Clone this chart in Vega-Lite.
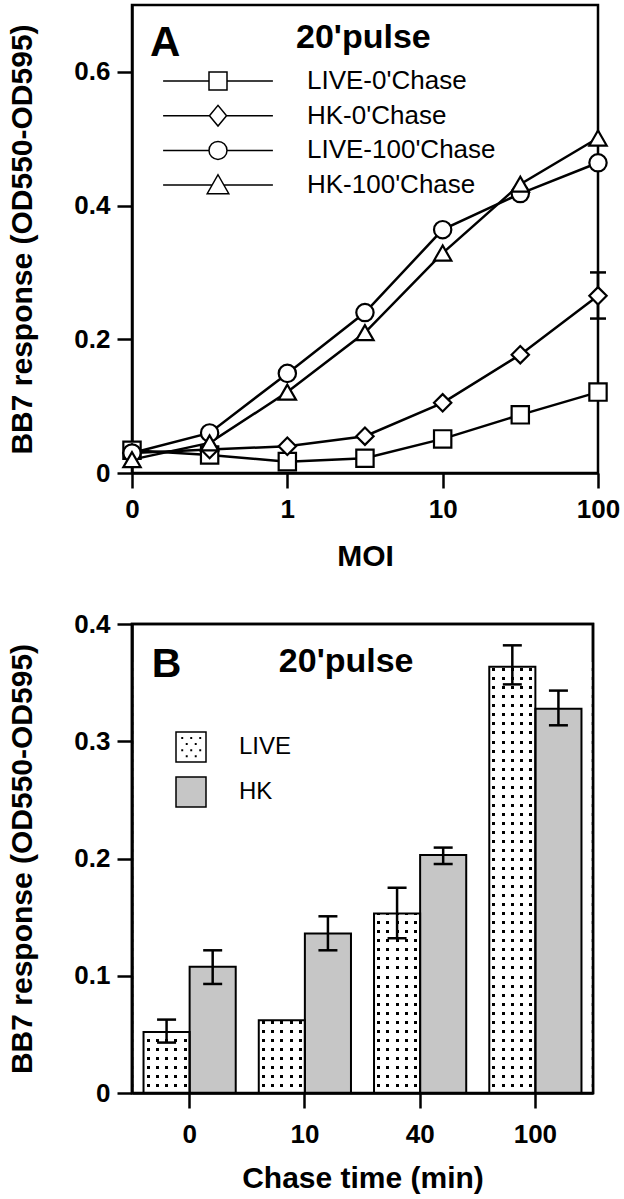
{
"$schema": "https://vega.github.io/schema/vega-lite/v6.json",
"background": "white",
"padding": {"left": 6, "top": 3, "right": 0, "bottom": 0},
"spacing": 36,
"resolve": {"scale": {"shape": "independent", "fill": "independent"}, "legend": {"shape": "independent", "fill": "independent"}},
"config": {
  "font": "Liberation Sans",
  "view": {"stroke": "black", "strokeWidth": 2.5},
  "axis": {"domainColor": "black", "domainWidth": 2.5, "tickColor": "black", "tickWidth": 2.5, "tickSize": 15, "labelFont": "Liberation Sans", "labelFontWeight": "bold", "labelFontSize": 26, "labelColor": "black", "titleFont": "Liberation Sans", "titleFontWeight": "bold", "titleFontSize": 30, "titleColor": "black", "grid": false},
  "axisY": {"labelPadding": 7, "titlePadding": 36},
  "axisX": {"labelPadding": 8, "titlePadding": 19},
  "legend": {"labelFont": "Liberation Sans", "labelColor": "black"}
},
"vconcat": [
{
  "width": 466, "height": 468,
  "data": {"values": [
    {"series": "LIVE-0'Chase", "moi": 0.1, "val": 0.034},
    {"series": "LIVE-0'Chase", "moi": 0.316, "val": 0.027},
    {"series": "LIVE-0'Chase", "moi": 1, "val": 0.017},
    {"series": "LIVE-0'Chase", "moi": 3.16, "val": 0.022},
    {"series": "LIVE-0'Chase", "moi": 10, "val": 0.051},
    {"series": "LIVE-0'Chase", "moi": 31.6, "val": 0.087},
    {"series": "LIVE-0'Chase", "moi": 100, "val": 0.121},
    {"series": "HK-0'Chase", "moi": 0.1, "val": 0.030},
    {"series": "HK-0'Chase", "moi": 0.316, "val": 0.035},
    {"series": "HK-0'Chase", "moi": 1, "val": 0.040},
    {"series": "HK-0'Chase", "moi": 3.16, "val": 0.055},
    {"series": "HK-0'Chase", "moi": 10, "val": 0.105},
    {"series": "HK-0'Chase", "moi": 31.6, "val": 0.177},
    {"series": "HK-0'Chase", "moi": 100, "val": 0.265, "lo": 0.231, "hi": 0.300},
    {"series": "LIVE-100'Chase", "moi": 0.1, "val": 0.030},
    {"series": "LIVE-100'Chase", "moi": 0.316, "val": 0.060},
    {"series": "LIVE-100'Chase", "moi": 1, "val": 0.149},
    {"series": "LIVE-100'Chase", "moi": 3.16, "val": 0.240},
    {"series": "LIVE-100'Chase", "moi": 10, "val": 0.364},
    {"series": "LIVE-100'Chase", "moi": 31.6, "val": 0.418},
    {"series": "LIVE-100'Chase", "moi": 100, "val": 0.464},
    {"series": "HK-100'Chase", "moi": 0.1, "val": 0.020},
    {"series": "HK-100'Chase", "moi": 0.316, "val": 0.045},
    {"series": "HK-100'Chase", "moi": 1, "val": 0.121},
    {"series": "HK-100'Chase", "moi": 3.16, "val": 0.210},
    {"series": "HK-100'Chase", "moi": 10, "val": 0.329},
    {"series": "HK-100'Chase", "moi": 31.6, "val": 0.432},
    {"series": "HK-100'Chase", "moi": 100, "val": 0.501}
  ]},
  "resolve": {"scale": {"shape": "independent"}},
  "layer": [
    {"mark": {"type": "line", "color": "black", "strokeWidth": 2.5},
     "encoding": {
       "x": {"field": "moi", "type": "quantitative", "scale": {"type": "log", "domain": [0.1, 100]}, "axis": {"values": [0.1, 1, 10, 100], "labelFlush": false, "labelExpr": "datum.value < 0.5 ? '0' : format(datum.value, '~g')", "title": "MOI"}},
       "y": {"field": "val", "type": "quantitative", "scale": {"domain": [0, 0.7], "nice": false}, "axis": {"values": [0, 0.2, 0.4, 0.6], "format": "~g", "title": "BB7 response (OD550-OD595)"}},
       "detail": {"field": "series", "type": "nominal"}}},
    {"transform": [{"filter": "isValid(datum.lo)"}],
     "mark": {"type": "rule", "color": "black", "strokeWidth": 2.5},
     "encoding": {"x": {"field": "moi", "type": "quantitative"}, "y": {"field": "lo", "type": "quantitative"}, "y2": {"field": "hi"}}},
    {"transform": [{"filter": "isValid(datum.hi)"}],
     "mark": {"type": "tick", "orient": "horizontal", "color": "black", "size": 16, "thickness": 2.5, "opacity": 1},
     "encoding": {"x": {"field": "moi", "type": "quantitative"}, "y": {"field": "hi", "type": "quantitative"}}},
    {"transform": [{"filter": "isValid(datum.lo)"}],
     "mark": {"type": "tick", "orient": "horizontal", "color": "black", "size": 16, "thickness": 2.5, "opacity": 1},
     "encoding": {"x": {"field": "moi", "type": "quantitative"}, "y": {"field": "lo", "type": "quantitative"}}},
    {"mark": {"type": "point", "filled": true, "fill": "white", "stroke": "black", "strokeWidth": 2.2, "size": 300, "opacity": 1},
     "encoding": {
       "x": {"field": "moi", "type": "quantitative"},
       "y": {"field": "val", "type": "quantitative"},
       "shape": {"field": "series", "type": "nominal", "scale": {"domain": ["LIVE-0'Chase", "HK-0'Chase", "LIVE-100'Chase", "HK-100'Chase"], "range": ["square", "diamond", "circle", "triangle-up"]}, "legend": null}}},
    {"transform": [{"filter": "false"}],
     "mark": {"type": "point", "filled": true, "fill": "white", "stroke": "black", "strokeWidth": 2.5, "opacity": 1},
     "encoding": {
       "shape": {"field": "series", "type": "nominal",
         "scale": {"domain": ["LIVE-0'Chase", "HK-0'Chase", "LIVE-100'Chase", "HK-100'Chase"],
                   "range": ["M-6.1,0H-1M1,0H6.1M-1,-1H1V1H-1Z", "M-6.1,0H-0.95M0.95,0H6.1M-0.95,0L0,-1.15L0.95,0L0,1.15Z", "M-6.1,0H-1M1,0H6.1M-1,0A1,1,0,1,1,1,0A1,1,0,1,1,-1,0Z", "M-6.1,0H-0.66M0.66,0H6.1M0,-1.15L1.2,0.95H-1.2Z"]},
         "legend": {"orient": "none", "legendX": 73, "legendY": 63, "title": null, "padding": 0, "symbolSize": 324, "labelFontSize": 26, "labelOffset": 76, "rowPadding": 7.7, "labelLimit": 400,
           "encode": {"symbols": {"update": {"stroke": {"value": "black"}, "strokeWidth": {"value": 2.6}, "fill": {"value": "white"}, "opacity": {"value": 1}}}}}}}},
    {"data": {"values": [{}]},
     "mark": {"type": "text", "text": "A", "font": "Liberation Sans", "fontSize": 42, "fontWeight": "bold", "align": "left", "baseline": "middle", "color": "black"},
     "encoding": {"x": {"datum": 0.1306, "type": "quantitative"}, "y": {"datum": 0.643, "type": "quantitative"}}},
    {"data": {"values": [{}]},
     "mark": {"type": "text", "text": "20'pulse", "font": "Liberation Sans", "fontSize": 34, "fontWeight": "bold", "align": "left", "baseline": "middle", "color": "black"},
     "encoding": {"x": {"datum": 1.137, "type": "quantitative"}, "y": {"datum": 0.651, "type": "quantitative"}}}
  ]
},
{
  "width": 461, "height": 469,
  "data": {"values": [
    {"chase": "0", "type": "LIVE", "val": 0.052, "lo": 0.043, "hi": 0.0626},
    {"chase": "0", "type": "HK", "val": 0.1076, "lo": 0.093, "hi": 0.1217},
    {"chase": "10", "type": "LIVE", "val": 0.062},
    {"chase": "10", "type": "HK", "val": 0.136, "lo": 0.1217, "hi": 0.1507},
    {"chase": "40", "type": "LIVE", "val": 0.153, "lo": 0.132, "hi": 0.175},
    {"chase": "40", "type": "HK", "val": 0.203, "lo": 0.1953, "hi": 0.2093},
    {"chase": "100", "type": "LIVE", "val": 0.3635, "lo": 0.3485, "hi": 0.3818},
    {"chase": "100", "type": "HK", "val": 0.3277, "lo": 0.3136, "hi": 0.3432}
  ]},
  "layer": [
    {"transform": [{"filter": "datum.type == 'LIVE'"}],
     "mark": {"type": "bar", "strokeWidth": 0, "fill": {"gradient": "linear", "x1": 0, "y1": 0, "x2": 1, "y2": 0, "stops": [
        {"offset": 0, "color": "#fff"}, {"offset": 0.0674, "color": "#fff"}, {"offset": 0.0674, "color": "#000"}, {"offset": 0.1326, "color": "#000"}, {"offset": 0.1326, "color": "#fff"},
        {"offset": 0.2674, "color": "#fff"}, {"offset": 0.2674, "color": "#000"}, {"offset": 0.3326, "color": "#000"}, {"offset": 0.3326, "color": "#fff"},
        {"offset": 0.4674, "color": "#fff"}, {"offset": 0.4674, "color": "#000"}, {"offset": 0.5326, "color": "#000"}, {"offset": 0.5326, "color": "#fff"},
        {"offset": 0.6674, "color": "#fff"}, {"offset": 0.6674, "color": "#000"}, {"offset": 0.7326, "color": "#000"}, {"offset": 0.7326, "color": "#fff"},
        {"offset": 0.8674, "color": "#fff"}, {"offset": 0.8674, "color": "#000"}, {"offset": 0.9326, "color": "#000"}, {"offset": 0.9326, "color": "#fff"},
        {"offset": 1, "color": "#fff"}]}},
     "encoding": {
       "x": {"field": "chase", "type": "nominal", "scale": {"domain": ["0", "10", "40", "100"], "paddingInner": 0.2, "paddingOuter": 0.1}, "axis": {"title": "Chase time (min)", "labelAngle": 0, "zindex": 1, "labelPadding": 13, "titlePadding": 16}},
       "xOffset": {"field": "type", "type": "nominal", "scale": {"domain": ["LIVE", "HK"], "paddingInner": 0, "paddingOuter": 0}},
       "y": {"field": "val", "type": "quantitative", "scale": {"domain": [0, 0.4], "nice": false}, "axis": {"values": [0, 0.1, 0.2, 0.3, 0.4], "format": "~g", "title": "BB7 response (OD550-OD595)", "zindex": 1}}}},
    {"data": {"values": [{}]},
     "mark": {"type": "rect", "fill": {"gradient": "linear", "x1": 0, "y1": 0, "x2": 0, "y2": 1, "stops": [
{"offset":0,"color":"transparent"},{"offset":0.0069,"color":"transparent"},{"offset":0.0069,"color":"#fff"},
{"offset":0.0208,"color":"#fff"},{"offset":0.0208,"color":"transparent"},{"offset":0.0277,"color":"transparent"},{"offset":0.0277,"color":"#fff"},
{"offset":0.0417,"color":"#fff"},{"offset":0.0417,"color":"transparent"},{"offset":0.0486,"color":"transparent"},{"offset":0.0486,"color":"#fff"},
{"offset":0.0625,"color":"#fff"},{"offset":0.0625,"color":"transparent"},{"offset":0.0694,"color":"transparent"},{"offset":0.0694,"color":"#fff"},
{"offset":0.0833,"color":"#fff"},{"offset":0.0833,"color":"transparent"},{"offset":0.0902,"color":"transparent"},{"offset":0.0902,"color":"#fff"},
{"offset":0.1042,"color":"#fff"},{"offset":0.1042,"color":"transparent"},{"offset":0.1111,"color":"transparent"},{"offset":0.1111,"color":"#fff"},
{"offset":0.125,"color":"#fff"},{"offset":0.125,"color":"transparent"},{"offset":0.1319,"color":"transparent"},{"offset":0.1319,"color":"#fff"},
{"offset":0.1458,"color":"#fff"},{"offset":0.1458,"color":"transparent"},{"offset":0.1527,"color":"transparent"},{"offset":0.1527,"color":"#fff"},
{"offset":0.1667,"color":"#fff"},{"offset":0.1667,"color":"transparent"},{"offset":0.1736,"color":"transparent"},{"offset":0.1736,"color":"#fff"},
{"offset":0.1875,"color":"#fff"},{"offset":0.1875,"color":"transparent"},{"offset":0.1944,"color":"transparent"},{"offset":0.1944,"color":"#fff"},
{"offset":0.2083,"color":"#fff"},{"offset":0.2083,"color":"transparent"},{"offset":0.2152,"color":"transparent"},{"offset":0.2152,"color":"#fff"},
{"offset":0.2292,"color":"#fff"},{"offset":0.2292,"color":"transparent"},{"offset":0.2361,"color":"transparent"},{"offset":0.2361,"color":"#fff"},
{"offset":0.25,"color":"#fff"},{"offset":0.25,"color":"transparent"},{"offset":0.2569,"color":"transparent"},{"offset":0.2569,"color":"#fff"},
{"offset":0.2708,"color":"#fff"},{"offset":0.2708,"color":"transparent"},{"offset":0.2777,"color":"transparent"},{"offset":0.2777,"color":"#fff"},
{"offset":0.2917,"color":"#fff"},{"offset":0.2917,"color":"transparent"},{"offset":0.2986,"color":"transparent"},{"offset":0.2986,"color":"#fff"},
{"offset":0.3125,"color":"#fff"},{"offset":0.3125,"color":"transparent"},{"offset":0.3194,"color":"transparent"},{"offset":0.3194,"color":"#fff"},
{"offset":0.3333,"color":"#fff"},{"offset":0.3333,"color":"transparent"},{"offset":0.3402,"color":"transparent"},{"offset":0.3402,"color":"#fff"},
{"offset":0.3542,"color":"#fff"},{"offset":0.3542,"color":"transparent"},{"offset":0.3611,"color":"transparent"},{"offset":0.3611,"color":"#fff"},
{"offset":0.375,"color":"#fff"},{"offset":0.375,"color":"transparent"},{"offset":0.3819,"color":"transparent"},{"offset":0.3819,"color":"#fff"},
{"offset":0.3958,"color":"#fff"},{"offset":0.3958,"color":"transparent"},{"offset":0.4027,"color":"transparent"},{"offset":0.4027,"color":"#fff"},
{"offset":0.4167,"color":"#fff"},{"offset":0.4167,"color":"transparent"},{"offset":0.4236,"color":"transparent"},{"offset":0.4236,"color":"#fff"},
{"offset":0.4375,"color":"#fff"},{"offset":0.4375,"color":"transparent"},{"offset":0.4444,"color":"transparent"},{"offset":0.4444,"color":"#fff"},
{"offset":0.4583,"color":"#fff"},{"offset":0.4583,"color":"transparent"},{"offset":0.4652,"color":"transparent"},{"offset":0.4652,"color":"#fff"},
{"offset":0.4792,"color":"#fff"},{"offset":0.4792,"color":"transparent"},{"offset":0.4861,"color":"transparent"},{"offset":0.4861,"color":"#fff"},
{"offset":0.5,"color":"#fff"},{"offset":0.5,"color":"transparent"},{"offset":0.5069,"color":"transparent"},{"offset":0.5069,"color":"#fff"},
{"offset":0.5208,"color":"#fff"},{"offset":0.5208,"color":"transparent"},{"offset":0.5277,"color":"transparent"},{"offset":0.5277,"color":"#fff"},
{"offset":0.5417,"color":"#fff"},{"offset":0.5417,"color":"transparent"},{"offset":0.5486,"color":"transparent"},{"offset":0.5486,"color":"#fff"},
{"offset":0.5625,"color":"#fff"},{"offset":0.5625,"color":"transparent"},{"offset":0.5694,"color":"transparent"},{"offset":0.5694,"color":"#fff"},
{"offset":0.5833,"color":"#fff"},{"offset":0.5833,"color":"transparent"},{"offset":0.5902,"color":"transparent"},{"offset":0.5902,"color":"#fff"},
{"offset":0.6042,"color":"#fff"},{"offset":0.6042,"color":"transparent"},{"offset":0.6111,"color":"transparent"},{"offset":0.6111,"color":"#fff"},
{"offset":0.625,"color":"#fff"},{"offset":0.625,"color":"transparent"},{"offset":0.6319,"color":"transparent"},{"offset":0.6319,"color":"#fff"},
{"offset":0.6458,"color":"#fff"},{"offset":0.6458,"color":"transparent"},{"offset":0.6527,"color":"transparent"},{"offset":0.6527,"color":"#fff"},
{"offset":0.6667,"color":"#fff"},{"offset":0.6667,"color":"transparent"},{"offset":0.6736,"color":"transparent"},{"offset":0.6736,"color":"#fff"},
{"offset":0.6875,"color":"#fff"},{"offset":0.6875,"color":"transparent"},{"offset":0.6944,"color":"transparent"},{"offset":0.6944,"color":"#fff"},
{"offset":0.7083,"color":"#fff"},{"offset":0.7083,"color":"transparent"},{"offset":0.7152,"color":"transparent"},{"offset":0.7152,"color":"#fff"},
{"offset":0.7292,"color":"#fff"},{"offset":0.7292,"color":"transparent"},{"offset":0.7361,"color":"transparent"},{"offset":0.7361,"color":"#fff"},
{"offset":0.75,"color":"#fff"},{"offset":0.75,"color":"transparent"},{"offset":0.7569,"color":"transparent"},{"offset":0.7569,"color":"#fff"},
{"offset":0.7708,"color":"#fff"},{"offset":0.7708,"color":"transparent"},{"offset":0.7777,"color":"transparent"},{"offset":0.7777,"color":"#fff"},
{"offset":0.7917,"color":"#fff"},{"offset":0.7917,"color":"transparent"},{"offset":0.7986,"color":"transparent"},{"offset":0.7986,"color":"#fff"},
{"offset":0.8125,"color":"#fff"},{"offset":0.8125,"color":"transparent"},{"offset":0.8194,"color":"transparent"},{"offset":0.8194,"color":"#fff"},
{"offset":0.8333,"color":"#fff"},{"offset":0.8333,"color":"transparent"},{"offset":0.8402,"color":"transparent"},{"offset":0.8402,"color":"#fff"},
{"offset":0.8542,"color":"#fff"},{"offset":0.8542,"color":"transparent"},{"offset":0.8611,"color":"transparent"},{"offset":0.8611,"color":"#fff"},
{"offset":0.875,"color":"#fff"},{"offset":0.875,"color":"transparent"},{"offset":0.8819,"color":"transparent"},{"offset":0.8819,"color":"#fff"},
{"offset":0.8958,"color":"#fff"},{"offset":0.8958,"color":"transparent"},{"offset":0.9027,"color":"transparent"},{"offset":0.9027,"color":"#fff"},
{"offset":0.9167,"color":"#fff"},{"offset":0.9167,"color":"transparent"},{"offset":0.9236,"color":"transparent"},{"offset":0.9236,"color":"#fff"},
{"offset":0.9375,"color":"#fff"},{"offset":0.9375,"color":"transparent"},{"offset":0.9444,"color":"transparent"},{"offset":0.9444,"color":"#fff"},
{"offset":0.9583,"color":"#fff"},{"offset":0.9583,"color":"transparent"},{"offset":0.9652,"color":"transparent"},{"offset":0.9652,"color":"#fff"},
{"offset":0.9792,"color":"#fff"},{"offset":0.9792,"color":"transparent"},{"offset":0.9861,"color":"transparent"},{"offset":0.9861,"color":"#fff"},
{"offset":1,"color":"#fff"}]}},
     "encoding": {"y": {"datum": 0, "type": "quantitative"}, "y2": {"datum": 0.37}}},
    {"transform": [{"filter": "datum.type == 'HK'"}],
     "mark": {"type": "bar", "fill": "#c6c6c6", "stroke": "black", "strokeWidth": 2},
     "encoding": {
       "x": {"field": "chase", "type": "nominal"},
       "xOffset": {"field": "type", "type": "nominal"},
       "y": {"field": "val", "type": "quantitative"}}},
    {"transform": [{"filter": "datum.type == 'LIVE'"}],
     "mark": {"type": "bar", "fillOpacity": 0, "stroke": "black", "strokeWidth": 2},
     "encoding": {
       "x": {"field": "chase", "type": "nominal"},
       "xOffset": {"field": "type", "type": "nominal"},
       "y": {"field": "val", "type": "quantitative"}}},
    {"transform": [{"filter": "isValid(datum.lo)"}],
     "mark": {"type": "rule", "color": "black", "strokeWidth": 2.5},
     "encoding": {
       "x": {"field": "chase", "type": "nominal"},
       "xOffset": {"field": "type", "type": "nominal"},
       "y": {"field": "lo", "type": "quantitative"}, "y2": {"field": "hi"}}},
    {"transform": [{"filter": "isValid(datum.hi)"}],
     "mark": {"type": "tick", "color": "black", "size": 19, "thickness": 2.5, "opacity": 1},
     "encoding": {
       "x": {"field": "chase", "type": "nominal"},
       "xOffset": {"field": "type", "type": "nominal"},
       "y": {"field": "hi", "type": "quantitative"}}},
    {"transform": [{"filter": "isValid(datum.lo)"}],
     "mark": {"type": "tick", "color": "black", "size": 19, "thickness": 2.5, "opacity": 1},
     "encoding": {
       "x": {"field": "chase", "type": "nominal"},
       "xOffset": {"field": "type", "type": "nominal"},
       "y": {"field": "lo", "type": "quantitative"}}},
    {"data": {"values": [{}]},
     "mark": {"type": "text", "text": "B", "font": "Liberation Sans", "fontSize": 41, "fontWeight": "bold", "align": "center", "baseline": "middle", "color": "black"},
     "encoding": {"x": {"datum": "0", "type": "nominal"}, "xOffset": {"datum": "LIVE", "type": "nominal"}, "y": {"datum": 0.365, "type": "quantitative"}}},
    {"data": {"values": [{}]},
     "mark": {"type": "text", "text": "20'pulse", "font": "Liberation Sans", "fontSize": 34, "fontWeight": "bold", "align": "left", "baseline": "middle", "dx": -3, "color": "black"},
     "encoding": {"x": {"datum": "10", "type": "nominal"}, "xOffset": {"datum": "LIVE", "type": "nominal"}, "y": {"datum": 0.368, "type": "quantitative"}}},
    {"data": {"values": [{}]},
     "mark": {"type": "rect", "fillOpacity": 0, "stroke": "black", "strokeWidth": 2.5},
     "encoding": {}},
    {"transform": [{"filter": "false"}],
     "mark": {"type": "point", "filled": true, "stroke": "black", "strokeWidth": 2, "opacity": 1},
     "encoding": {
       "fill": {"field": "type", "type": "nominal", "scale": {"domain": ["LIVE", "HK"], "range": ["white", "#c6c6c6"]},
         "legend": {"orient": "none", "legendX": 43, "legendY": 107, "title": null, "padding": 0, "symbolSize": 900, "labelFontSize": 24, "labelOffset": 32, "rowPadding": 9,
           "encode": {"symbols": {"update": {"stroke": {"value": "black"}, "strokeWidth": {"value": 2}, "opacity": {"value": 1}}}}}},
       "shape": {"field": "type", "type": "nominal", "scale": {"domain": ["LIVE", "HK"], "range": ["M-1,-1H1V1H-1ZM-0.6,-0.62h0.03v0.03h-0.03ZM0,-0.62h0.03v0.03h-0.03ZM0.6,-0.62h0.03v0.03h-0.03ZM-0.3,-0.22h0.03v0.03h-0.03ZM0.3,-0.22h0.03v0.03h-0.03ZM-0.6,0.2h0.03v0.03h-0.03ZM0,0.2h0.03v0.03h-0.03ZM0.6,0.2h0.03v0.03h-0.03ZM-0.3,0.6h0.03v0.03h-0.03ZM0.3,0.6h0.03v0.03h-0.03Z", "square"]},
         "legend": {"orient": "none", "legendX": 43, "legendY": 107, "title": null, "padding": 0, "symbolSize": 900, "labelFontSize": 24, "labelOffset": 32, "rowPadding": 9,
           "encode": {"symbols": {"update": {"stroke": {"value": "black"}, "strokeWidth": {"value": 2}, "opacity": {"value": 1}}}}}}}}
  ]
}
]
}
